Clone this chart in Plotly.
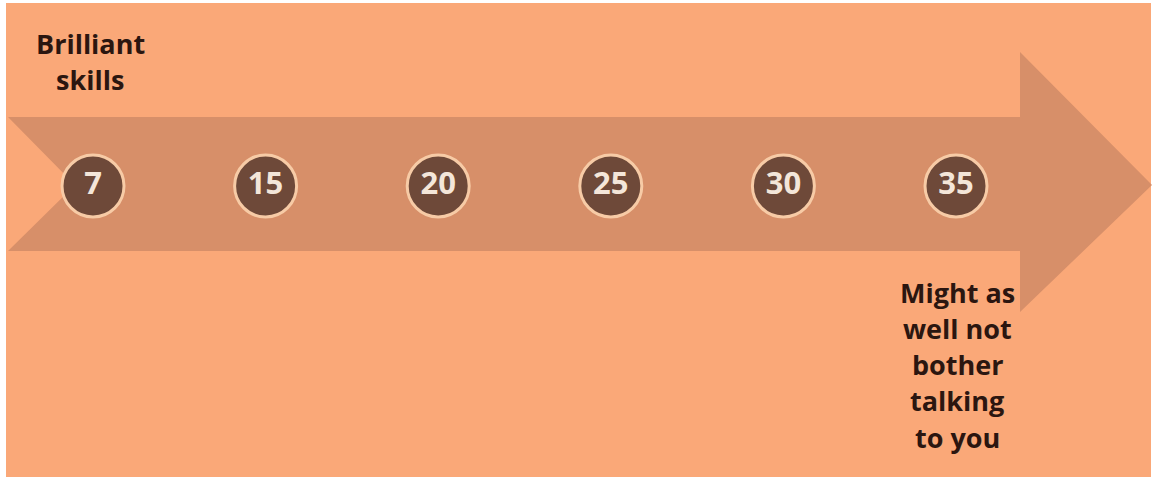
import plotly.graph_objects as go

# ---- data ----
stages = ["7", "15", "20", "25", "30", "35"]
stage_index = list(range(len(stages)))
top_label = ["Brilliant", "skills"]
bottom_label = ["Might as", "well not", "bother", "talking", "to you"]

# ---- style ----
BG = "#FAA878"
ARROW = "#D78F69"
CIRCLE = "#6E4939"
RING = "#F7CBA6"
NUM = "#F4E6D9"
TXT = "#2B1610"
FONT = "Open Sans"
W, H = 1153, 479
X0PX, STEP = 93.0, 172.6  # pixel of first stage and spacing


def px(x):
    return (x - X0PX) / STEP


xr = [px(0), px(W)]

fig = go.Figure()

# circles with numbers
fig.add_trace(go.Scatter(
    x=stage_index, y=[186] * len(stages), mode="markers+text",
    text=[f"<b>{s}</b>" for s in stages], textposition="middle center",
    textfont=dict(family=FONT, size=31, color=NUM),
    marker=dict(size=62, color=CIRCLE, line=dict(color=RING, width=3)),
    hoverinfo="skip", showlegend=False,
))

# background panel and arrow
shapes = [
    dict(type="rect", xref="x", yref="y", x0=px(6), x1=px(1151), y0=3, y1=477,
         fillcolor=BG, line=dict(width=0), layer="below"),
]
pts = [(8, 117), (1020, 117), (1020, 52), (1152, 185), (1020, 312), (1020, 251),
       (8, 251), (75, 185)]
path = "M " + " L ".join(f"{px(a)},{b}" for a, b in pts) + " Z"
shapes.append(dict(type="path", xref="x", yref="y", path=path,
                   fillcolor=ARROW, line=dict(width=0), layer="below"))

ann = []
for i, t in enumerate(top_label):
    ann.append(dict(x=px(90), y=43 + 36 * i, xref="x", yref="y", text=f"<b>{t}</b>",
                    showarrow=False, font=dict(family=FONT, size=27, color=TXT)))
for i, t in enumerate(bottom_label):
    ann.append(dict(x=px(957), y=292 + 36.3 * i, xref="x", yref="y", text=f"<b>{t}</b>",
                    showarrow=False, font=dict(family=FONT, size=27, color=TXT)))

fig.update_layout(
    width=W, height=H, margin=dict(l=0, r=0, t=0, b=0),
    paper_bgcolor="white", plot_bgcolor="white",
    shapes=shapes, annotations=ann,
    xaxis=dict(range=xr, visible=False, fixedrange=True),
    yaxis=dict(range=[H, 0], visible=False, fixedrange=True),
)

fig.write_html("out.html", config={"displayModeBar": False},
               post_script="document.body.style.margin='0';document.body.style.overflow='hidden';")
